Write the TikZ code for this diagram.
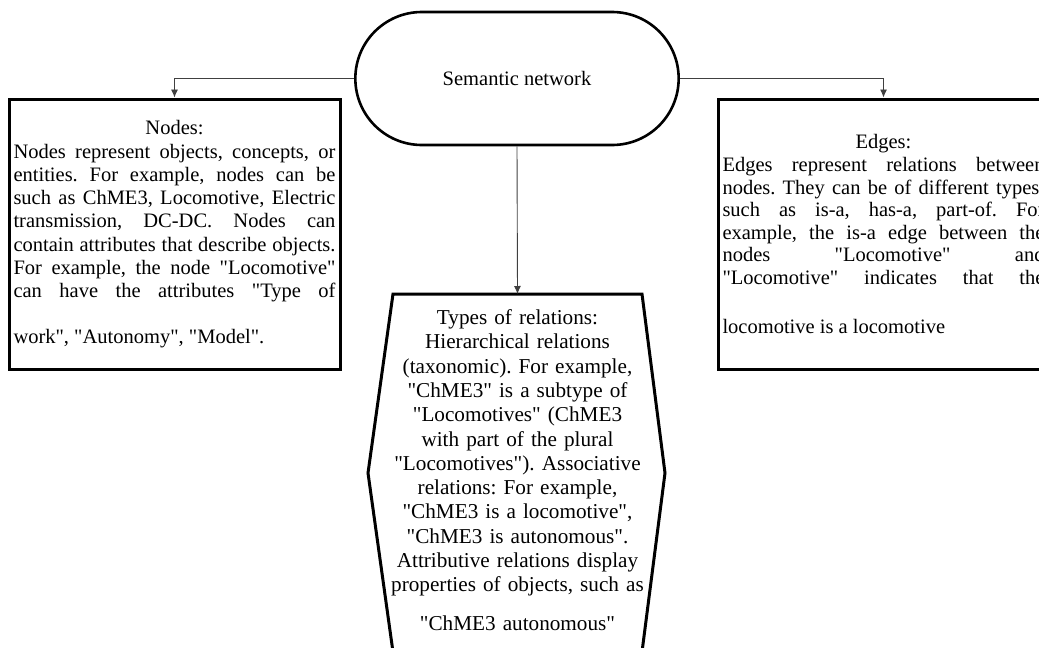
\documentclass[tikz,border=0pt]{standalone}
\usepackage{fontspec}
\newfontfamily\tnr{Liberation Serif}
\usetikzlibrary{arrows.meta,shapes.misc}

\tikzset{
  infobox/.style={draw, line width=3pt, minimum width=331pt, minimum height=270pt,
    text width=322pt, align=justify, inner xsep=4pt},
  link/.style={draw=black!75, line width=0.9pt, -{Latex[length=8pt,width=7pt]}}
}

\begin{document}
\frenchspacing
\begin{tikzpicture}[x=1pt, y=-1pt, font=\tnr\fontsize{20.5}{23.3}\selectfont]
  \useasboundingbox (0,0) rectangle (1039,648);

  % root
  \node[draw, rounded rectangle, line width=2.6pt, minimum width=330pt,
    minimum height=133pt] (net) at (517,78.5) {Semantic network};

  % left box
  \node[infobox] (nodes) at (174.5,234) {%
    \centerline{Nodes:}
    {\parfillskip=0pt
    Nodes represent objects, concepts, or\linebreak
    entities. For example, nodes can be\linebreak
    such as ChME3, Locomotive, Electric\linebreak
    transmission, DC-DC. Nodes can\linebreak
    contain attributes that describe objects.\linebreak
    For example, the node "Locomotive"\linebreak
    can have the attributes "Type of\par}
    \vspace{22pt}
    work", "Autonomy", "Model".};

  % right box
  \node[infobox, font=\tnr\fontsize{20.5}{22.6}\selectfont] (edges) at (883.5,234) {%
    \centerline{Edges:}
    {\parfillskip=0pt
    Edges represent relations between\linebreak
    nodes. They can be of different types,\linebreak
    such as is-a, has-a, part-of. For\linebreak
    example, the is-a edge between the\linebreak
    nodes "Locomotive" and\linebreak
    "Locomotive" indicates that the\par}
    \vspace{26pt}
    locomotive is a locomotive};

  % middle hexagon
  \node[inner sep=0pt, text width=270pt, align=center,
    font=\tnr\fontsize{21.2}{24.3}\selectfont] (rel) at (517.5,470) {%
    Types of relations:\\
    Hierarchical relations\\
    (taxonomic). For example,\\
    "ChME3" is a subtype of\\
    "Locomotives" (ChME3\\
    with part of the plural\\
    "Locomotives"). Associative\\
    relations: For example,\\
    "ChME3 is a locomotive",\\
    "ChME3 is autonomous".\\
    Attributive relations display\\
    properties of objects, such as\\[14pt]
    "ChME3 autonomous"};
  \coordinate (rel top) at (517.5,294);
  \draw[line width=3pt] (393,294) -- (642,294) -- (665,473) -- (642,652)
    -- (393,652) -- (368,473) -- cycle;

  % connectors
  \draw[link] (net.west) -| (nodes.north);
  \draw[link] (net.east) -| (edges.north);
  \draw[link] (net.south) -- (rel top);
\end{tikzpicture}
\end{document}
